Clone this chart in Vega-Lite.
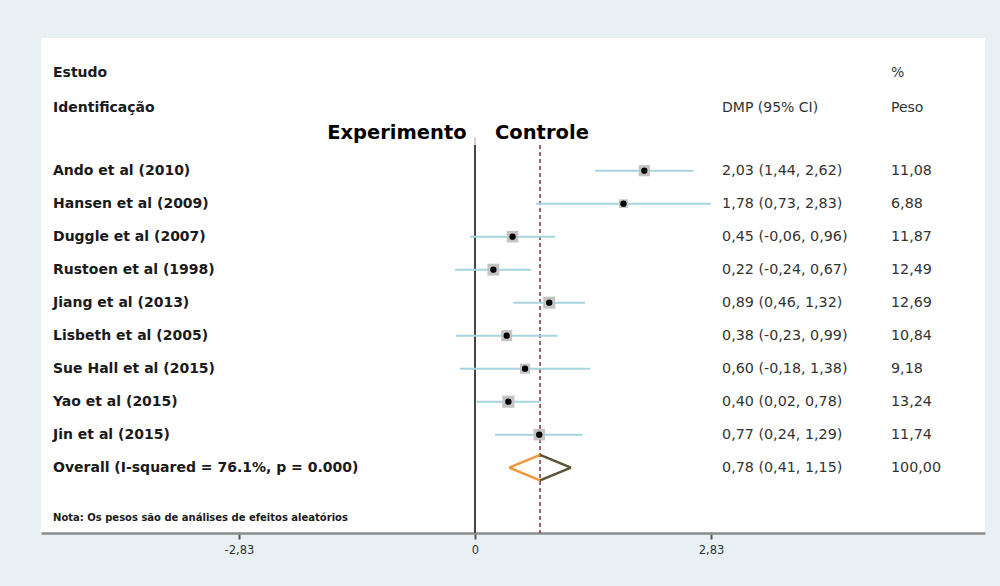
{
  "$schema": "https://vega.github.io/schema/vega-lite/v6.json",
  "width": 944,
  "height": 495,
  "autosize": {"type": "none"},
  "padding": {"left": 41, "top": 38, "right": 15, "bottom": 53},
  "background": "#e9f0f3",
  "config": {
    "view": {"fill": "white", "stroke": null},
    "font": "DejaVu Sans",
    "axis": {
      "domainColor": "#8c8c8c", "domainWidth": 2.5,
      "tickColor": "#555555", "tickWidth": 2, "tickSize": 6,
      "labelFont": "DejaVu Sans", "labelFontSize": 11.5, "labelColor": "#333333", "labelPadding": 5
    }
  },
  "datasets": {
    "rows": [
      {"row": 1, "kind": "study", "label": "Ando et al (2010)", "es": 2.03, "lo": 1.44, "hi": 2.62, "ci": "2,03 (1,44, 2,62)", "w": 11.08, "wt": "11,08"},
      {"row": 2, "kind": "study", "label": "Hansen et al (2009)", "es": 1.78, "lo": 0.73, "hi": 2.83, "ci": "1,78 (0,73, 2,83)", "w": 6.88, "wt": "6,88"},
      {"row": 3, "kind": "study", "label": "Duggle et al (2007)", "es": 0.45, "lo": -0.06, "hi": 0.96, "ci": "0,45 (-0,06, 0,96)", "w": 11.87, "wt": "11,87"},
      {"row": 4, "kind": "study", "label": "Rustoen et al (1998)", "es": 0.22, "lo": -0.24, "hi": 0.67, "ci": "0,22 (-0,24, 0,67)", "w": 12.49, "wt": "12,49"},
      {"row": 5, "kind": "study", "label": "Jiang et al (2013)", "es": 0.89, "lo": 0.46, "hi": 1.32, "ci": "0,89 (0,46, 1,32)", "w": 12.69, "wt": "12,69"},
      {"row": 6, "kind": "study", "label": "Lisbeth et al (2005)", "es": 0.38, "lo": -0.23, "hi": 0.99, "ci": "0,38 (-0,23, 0,99)", "w": 10.84, "wt": "10,84"},
      {"row": 7, "kind": "study", "label": "Sue Hall et al (2015)", "es": 0.60, "lo": -0.18, "hi": 1.38, "ci": "0,60 (-0,18, 1,38)", "w": 9.18, "wt": "9,18"},
      {"row": 8, "kind": "study", "label": "Yao et al (2015)", "es": 0.40, "lo": 0.02, "hi": 0.78, "ci": "0,40 (0,02, 0,78)", "w": 13.24, "wt": "13,24"},
      {"row": 9, "kind": "study", "label": "Jin et al (2015)", "es": 0.77, "lo": 0.24, "hi": 1.29, "ci": "0,77 (0,24, 1,29)", "w": 11.74, "wt": "11,74"},
      {"row": 10, "kind": "overall", "label": "Overall (I-squared = 76.1%, p = 0.000)", "es": 0.78, "lo": 0.41, "hi": 1.15, "ci": "0,78 (0,41, 1,15)", "w": 100, "wt": "100,00"}
    ]
  },
  "data": {"name": "rows"},
  "layer": [
    {
      "transform": [{"filter": "datum.row == 1"}],
      "mark": {"type": "rule", "color": "#cfcfcf", "strokeWidth": 2},
      "encoding": {
        "y": {"datum": 0.22, "type": "quantitative", "scale": {"domain": [-3.02, 11.98], "reverse": true, "nice": false, "zero": false}, "axis": null},
        "x": {"datum": 0, "type": "quantitative",
          "scale": {"domain": [-5.204, 6.115], "nice": false, "zero": false},
          "axis": {"values": [-2.83, 0, 2.83], "title": null, "grid": false,
            "labelExpr": "datum.value == 0 ? '0' : (datum.value < 0 ? '-' : '') + replace(format(abs(datum.value), '.2f'), '.', ',')"}}
      }
    },
    {
      "transform": [{"filter": "datum.row == 1"}],
      "mark": {"type": "rule", "color": "#444444", "strokeWidth": 2},
      "encoding": {
        "x": {"datum": 0, "type": "quantitative"},
        "y": {"datum": 0.22, "type": "quantitative"},
        "y2": {"datum": 11.98}
      }
    },
    {
      "transform": [{"filter": "datum.kind == 'overall'"}],
      "mark": {"type": "rule", "color": "#8b2c3c", "strokeWidth": 1.5, "strokeDash": [4, 3]},
      "encoding": {
        "x": {"field": "es", "type": "quantitative"},
        "y": {"datum": 0.22, "type": "quantitative"},
        "y2": {"datum": 11.98}
      }
    },
    {
      "transform": [{"filter": "datum.kind == 'study'"}],
      "mark": {"type": "rule", "color": "#a9d3de", "strokeWidth": 2},
      "encoding": {
        "x": {"field": "lo", "type": "quantitative"},
        "x2": {"field": "hi"},
        "y": {"field": "row", "type": "quantitative"}
      }
    },
    {
      "transform": [{"filter": "datum.kind == 'study'"}],
      "mark": {"type": "square", "color": "#c4c4c4", "opacity": 1},
      "encoding": {
        "x": {"field": "es", "type": "quantitative"},
        "y": {"field": "row", "type": "quantitative"},
        "size": {"field": "w", "type": "quantitative", "scale": {"domain": [0, 13.24], "range": [0, 150]}, "legend": null}
      }
    },
    {
      "transform": [{"filter": "datum.kind == 'study'"}],
      "mark": {"type": "point", "shape": "circle", "filled": true, "color": "#000000", "size": 40, "opacity": 1},
      "encoding": {
        "x": {"field": "es", "type": "quantitative"},
        "y": {"field": "row", "type": "quantitative"}
      }
    },
    {
      "transform": [{"filter": "datum.kind == 'overall'"}],
      "mark": {"type": "rule", "color": "#f0963c", "strokeWidth": 2.5, "y2Offset": -12.7},
      "encoding": {
        "x": {"field": "lo", "type": "quantitative"},
        "x2": {"field": "es"},
        "y": {"field": "row", "type": "quantitative"},
        "y2": {"field": "row"}
      }
    },
    {
      "transform": [{"filter": "datum.kind == 'overall'"}],
      "mark": {"type": "rule", "color": "#f0963c", "strokeWidth": 2.5, "y2Offset": 12.7},
      "encoding": {
        "x": {"field": "lo", "type": "quantitative"},
        "x2": {"field": "es"},
        "y": {"field": "row", "type": "quantitative"},
        "y2": {"field": "row"}
      }
    },
    {
      "transform": [{"filter": "datum.kind == 'overall'"}],
      "mark": {"type": "rule", "color": "#5c5436", "strokeWidth": 2.5, "y2Offset": -12.7},
      "encoding": {
        "x": {"field": "hi", "type": "quantitative"},
        "x2": {"field": "es"},
        "y": {"field": "row", "type": "quantitative"},
        "y2": {"field": "row"}
      }
    },
    {
      "transform": [{"filter": "datum.kind == 'overall'"}],
      "mark": {"type": "rule", "color": "#5c5436", "strokeWidth": 2.5, "y2Offset": 12.7},
      "encoding": {
        "x": {"field": "hi", "type": "quantitative"},
        "x2": {"field": "es"},
        "y": {"field": "row", "type": "quantitative"},
        "y2": {"field": "row"}
      }
    },
    {
      "mark": {"type": "text", "align": "left", "baseline": "middle", "fontSize": 14, "fontWeight": "bold", "color": "#1a1a1a", "font": "DejaVu Sans"},
      "encoding": {
        "x": {"datum": -5.06, "type": "quantitative"},
        "y": {"field": "row", "type": "quantitative"},
        "text": {"field": "label"}
      }
    },
    {
      "mark": {"type": "text", "align": "left", "baseline": "middle", "fontSize": 14.3, "color": "#333333", "font": "DejaVu Sans"},
      "encoding": {
        "x": {"datum": 2.962, "type": "quantitative"},
        "y": {"field": "row", "type": "quantitative"},
        "text": {"field": "ci"}
      }
    },
    {
      "mark": {"type": "text", "align": "left", "baseline": "middle", "fontSize": 14.3, "color": "#333333", "font": "DejaVu Sans"},
      "encoding": {
        "x": {"datum": 4.988, "type": "quantitative"},
        "y": {"field": "row", "type": "quantitative"},
        "text": {"field": "wt"}
      }
    },
    {
      "data": {"values": [{"t": "Estudo"}]},
      "mark": {"type": "text", "align": "left", "baseline": "middle", "fontSize": 14, "fontWeight": "bold", "color": "#1a1a1a", "font": "DejaVu Sans"},
      "encoding": {"x": {"datum": -5.06, "type": "quantitative"}, "y": {"datum": -1.96, "type": "quantitative"}, "text": {"field": "t"}}
    },
    {
      "data": {"values": [{"t": "Identificação"}]},
      "mark": {"type": "text", "align": "left", "baseline": "middle", "fontSize": 14, "fontWeight": "bold", "color": "#1a1a1a", "font": "DejaVu Sans"},
      "encoding": {"x": {"datum": -5.06, "type": "quantitative"}, "y": {"datum": -0.91, "type": "quantitative"}, "text": {"field": "t"}}
    },
    {
      "data": {"values": [{"t": "%"}]},
      "mark": {"type": "text", "align": "left", "baseline": "middle", "fontSize": 14, "color": "#333333", "font": "DejaVu Sans"},
      "encoding": {"x": {"datum": 4.988, "type": "quantitative"}, "y": {"datum": -1.96, "type": "quantitative"}, "text": {"field": "t"}}
    },
    {
      "data": {"values": [{"t": "Peso"}]},
      "mark": {"type": "text", "align": "left", "baseline": "middle", "fontSize": 14, "color": "#333333", "font": "DejaVu Sans"},
      "encoding": {"x": {"datum": 4.988, "type": "quantitative"}, "y": {"datum": -0.91, "type": "quantitative"}, "text": {"field": "t"}}
    },
    {
      "data": {"values": [{"t": "DMP (95% CI)"}]},
      "mark": {"type": "text", "align": "left", "baseline": "middle", "fontSize": 14, "color": "#333333", "font": "DejaVu Sans"},
      "encoding": {"x": {"datum": 2.962, "type": "quantitative"}, "y": {"datum": -0.91, "type": "quantitative"}, "text": {"field": "t"}}
    },
    {
      "data": {"values": [{"t": "Experimento"}]},
      "mark": {"type": "text", "align": "right", "baseline": "middle", "fontSize": 19.5, "fontWeight": "bold", "color": "#000000", "font": "DejaVu Sans"},
      "encoding": {"x": {"datum": -0.1, "type": "quantitative"}, "y": {"datum": -0.14, "type": "quantitative"}, "text": {"field": "t"}}
    },
    {
      "data": {"values": [{"t": "Controle"}]},
      "mark": {"type": "text", "align": "left", "baseline": "middle", "fontSize": 19.5, "fontWeight": "bold", "color": "#000000", "font": "DejaVu Sans"},
      "encoding": {"x": {"datum": 0.24, "type": "quantitative"}, "y": {"datum": -0.14, "type": "quantitative"}, "text": {"field": "t"}}
    },
    {
      "data": {"values": [{"t": "Nota: Os pesos são de análises de efeitos aleatórios"}]},
      "mark": {"type": "text", "align": "left", "baseline": "middle", "fontSize": 10, "fontWeight": "bold", "color": "#1a1a1a", "font": "DejaVu Sans"},
      "encoding": {"x": {"datum": -5.06, "type": "quantitative"}, "y": {"datum": 11.52, "type": "quantitative"}, "text": {"field": "t"}}
    }
  ]
}
